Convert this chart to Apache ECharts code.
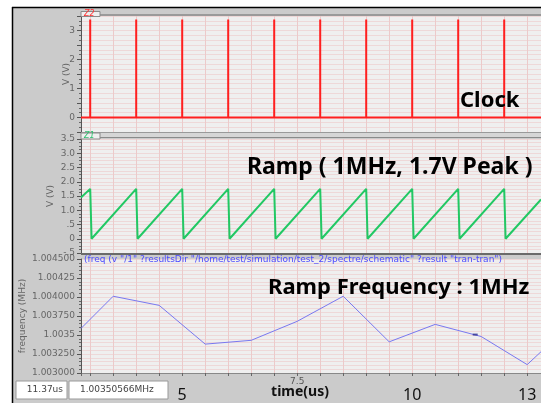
<!DOCTYPE html>
<html><head><meta charset="utf-8">
<script src="https://cdn.jsdelivr.net/npm/echarts@6/dist/echarts.min.js"></script>
<style>html,body{margin:0;padding:0;background:#fff}#c{width:541px;height:403px}</style>
</head><body><div id="c"></div>
<script>
// ---- data ----
const timeMin = 2.8, timeMax = 12.8;
const clockPulseTimes = [3, 4, 5, 6, 7, 8, 9, 10, 11, 12];
const clockHigh = 3.38;
const rampPoints = [
  [2.8, 1.45], [3.0, 1.75], [3.03, 0], [4.0, 1.75], [4.03, 0], [5.0, 1.75], [5.03, 0],
  [6.0, 1.75], [6.03, 0], [7.0, 1.75], [7.03, 0], [8.0, 1.75], [8.03, 0],
  [9.0, 1.75], [9.03, 0], [10.0, 1.75], [10.03, 0], [11.0, 1.75], [11.03, 0],
  [12.0, 1.75], [12.03, 0], [12.8, 1.38]
];
const freqTimes  = [2.8, 3.5, 4.5, 5.5, 6.5, 7.5, 8.5, 9.5, 10.5, 11.5, 12.5, 12.8];
const freqValues = [1.003586, 1.004010, 1.003890, 1.003380, 1.003430, 1.003680,
                    1.004010, 1.003410, 1.003640, 1.003480, 1.003110, 1.003280];
const cursorPoint = [11.37, 1.00350566];
const xTickValues = [5, 7.5, 10, 12.5];
const xTickLabels = ['5', '7.5', '10', '13'];
const clockTickValues = [0, 1, 2, 3];
const rampTickLabels = ['-.5', '0', '.5', '1.0', '1.5', '2.0', '2.5', '3.0', '3.5'];
const freqTickLabels = ['1.003000', '1.003250', '1.0035', '1.003750', '1.004000', '1.00425', '1.004500'];

// ---- build series data ----
const clockData = [[timeMin, 0]];
clockPulseTimes.forEach(t => { clockData.push([t, 0], [t, clockHigh], [t, 0]); });
clockData.push([timeMax, 0]);
const freqData = freqTimes.map((t, i) => [t, freqValues[i]]);

const chart = echarts.init(document.getElementById('c'), null, {renderer: 'canvas'});
const F = 'DejaVu Sans';
const plotBg = '#efefef';
const vGrid = '#eccaca';
const hGrid = 'rgba(236,196,196,0.55)';

function xAxisBase(i) {
  return {
    gridIndex: i, type: 'value', min: timeMin, max: timeMax, splitNumber: 20,
    axisLine: {show: false}, axisTick: {show: false}, axisLabel: {show: false},
    splitLine: {show: true, lineStyle: {color: vGrid, width: 1}}
  };
}
function yAxisBase(i) {
  return {
    gridIndex: i, type: 'value',
    axisLine: {show: true, lineStyle: {color: '#555', width: 1}},
    axisTick: {show: true, length: 4, lineStyle: {color: '#555'}},
    minorTick: {show: true, length: 2, lineStyle: {color: '#666'}},
    axisLabel: {color: '#666', fontSize: 9, fontFamily: F, margin: 6},
    splitLine: {show: true, lineStyle: {color: hGrid}},
    minorSplitLine: {show: true, lineStyle: {color: hGrid}},
    nameLocation: 'middle', nameRotate: 90, nameMoveOverlap: false,
    nameTextStyle: {color: '#666', fontSize: 9, fontFamily: F}
  };
}

const x2 = xAxisBase(2);
x2.axisLine = {show: true, lineStyle: {color: '#888'}};
x2.axisTick = {show: true, length: 3, inside: false, lineStyle: {color: '#666'}};
x2.axisLabel = {
  show: true, customValues: xTickValues, margin: 4,
  formatter: v => {
    const i = xTickValues.findIndex(x => Math.abs(x - v) < 1e-6);
    const s = i >= 0 ? xTickLabels[i] : '';
    return s === '7.5' ? '{s|' + s + '}' : '{b|' + s + '}';
  },
  rich: {
    s: {fontSize: 9, fontFamily: F, color: '#555', padding: [0, 0, 0, 0]},
    b: {fontSize: 16, fontFamily: 'Noto Sans', color: '#111', padding: [10, 0, 0, 0]}
  }
};
x2.name = 'time(us)';
x2.nameLocation = 'middle';
x2.nameGap = 12;
x2.nameMoveOverlap = false;
x2.nameTextStyle = {fontSize: 14, fontWeight: 'bold', fontFamily: 'Noto Sans', color: '#111', padding: [0, 22, 0, 0]};

const y0 = yAxisBase(0);
Object.assign(y0, {min: -0.5, max: 3.5, interval: 0.5, name: 'V (V)', nameGap: 10});
y0.axisLabel = Object.assign({}, y0.axisLabel, {customValues: clockTickValues, formatter: v => String(Math.round(v))});
y0.minorTick = Object.assign({}, y0.minorTick, {splitNumber: 3});

const y1 = yAxisBase(1);
Object.assign(y1, {min: -0.5, max: 3.5, interval: 0.5, name: 'V (V)', nameGap: 26});
y1.axisLabel = Object.assign({}, y1.axisLabel, {formatter: v => rampTickLabels[Math.round((v + 0.5) / 0.5)] || ''});
y1.minorTick = Object.assign({}, y1.minorTick, {splitNumber: 4});

const y2 = yAxisBase(2);
Object.assign(y2, {min: 1.003, max: 1.0045, interval: 0.00025, name: 'frequency (MHz)', nameGap: 54});
y2.axisLabel = Object.assign({}, y2.axisLabel, {formatter: v => freqTickLabels[Math.round((v - 1.003) / 0.00025)] || ''});
y2.minorTick = Object.assign({}, y2.minorTick, {splitNumber: 5});

const titleText = '(freq (v "/1" ?resultsDir "/home/test/simulation/test_2/spectre/schematic" ?result "tran-tran")';

const option = {
  backgroundColor: '#cbcbcb',
  animation: false,
  grid: [
    {left: 81, right: 0, top: 16, height: 116, show: true, backgroundColor: plotBg, borderWidth: 0},
    {left: 81, right: 0, top: 139, height: 114, show: true, backgroundColor: plotBg, borderWidth: 0},
    {left: 81, right: 0, top: 259, height: 117, show: true, backgroundColor: plotBg, borderWidth: 0}
  ],
  xAxis: [xAxisBase(0), xAxisBase(1), x2],
  yAxis: [y0, y1, y2],
  series: [
    {type: 'line', xAxisIndex: 0, yAxisIndex: 0, data: clockData, symbol: 'none',
     lineStyle: {color: '#ff2020', width: 2}, z: 3},
    {type: 'line', xAxisIndex: 1, yAxisIndex: 1, data: rampPoints, symbol: 'none',
     lineStyle: {color: '#22c864', width: 2}, z: 3},
    {type: 'line', xAxisIndex: 2, yAxisIndex: 2, data: freqData, symbol: 'none',
     lineStyle: {color: '#7878f0', width: 1}, z: 3},
    {type: 'scatter', xAxisIndex: 2, yAxisIndex: 2, data: [cursorPoint], symbol: 'rect',
     symbolSize: [5, 2], itemStyle: {color: '#303090'}, z: 4}
  ],
  graphic: [
    {type: 'rect', shape: {x: 0, y: 0, width: 541, height: 7}, style: {fill: '#fff'}, z: 100},
    {type: 'rect', shape: {x: 0, y: 0, width: 12, height: 403}, style: {fill: '#fff'}, z: 100},
    {type: 'line', shape: {x1: 12, y1: 7.5, x2: 541, y2: 7.5}, style: {stroke: '#000', lineWidth: 1.5}, z: 101},
    {type: 'line', shape: {x1: 12.5, y1: 7, x2: 12.5, y2: 403}, style: {stroke: '#000', lineWidth: 1.5}, z: 101},
    {type: 'line', shape: {x1: 100, y1: 15, x2: 541, y2: 15}, style: {stroke: '#9a9a9a', lineWidth: 2}, z: 100},
    {type: 'rect', shape: {x: 81, y: 11.5, width: 19, height: 5}, style: {fill: plotBg, stroke: '#8a8a8a', lineWidth: 1}, z: 100},
    {type: 'text', x: 84, y: 14, style: {text: 'Z2', fill: '#ff3030', font: 'italic 8px DejaVu Sans', verticalAlign: 'middle'}, z: 101},
    {type: 'line', shape: {x1: 81, y1: 132.5, x2: 541, y2: 132.5}, style: {stroke: '#9a9a9a', lineWidth: 1}, z: 100},
    {type: 'rect', shape: {x: 100, y: 133, width: 441, height: 4}, style: {fill: '#d6d6d6'}, z: 100},
    {type: 'line', shape: {x1: 100, y1: 137.5, x2: 541, y2: 137.5}, style: {stroke: '#8a8a8a', lineWidth: 1}, z: 100},
    {type: 'rect', shape: {x: 81, y: 133, width: 19, height: 6}, style: {fill: plotBg, stroke: '#8a8a8a', lineWidth: 1}, z: 100},
    {type: 'text', x: 84, y: 136, style: {text: 'Z1', fill: '#30c070', font: 'italic 8px DejaVu Sans', verticalAlign: 'middle'}, z: 101},
    {type: 'line', shape: {x1: 81, y1: 254, x2: 541, y2: 254}, style: {stroke: '#6a6a6a', lineWidth: 2}, z: 100},
    {type: 'text', x: 84, y: 260, style: {text: titleText, fill: '#4a4aff', font: '9px DejaVu Sans', verticalAlign: 'middle'}, z: 101},
    {type: 'text', x: 460, y: 101, style: {text: 'Clock', fill: '#000', font: 'bold 22px "Noto Sans"', verticalAlign: 'middle'}, z: 110},
    {type: 'text', x: 247, y: 167, style: {text: 'Ramp ( 1MHz, 1.7V Peak )', fill: '#000', font: 'bold 23px "Noto Sans"', verticalAlign: 'middle'}, z: 110},
    {type: 'text', x: 268, y: 288, style: {text: 'Ramp Frequency : 1MHz', fill: '#000', font: 'bold 22px "Noto Sans"', verticalAlign: 'middle'}, z: 110},
    {type: 'rect', shape: {x: 16, y: 381, width: 51, height: 18}, style: {fill: '#fff', stroke: '#999', lineWidth: 1}, z: 100},
    {type: 'text', x: 63, y: 390, style: {text: '11.37us', fill: '#444', font: '9px DejaVu Sans', align: 'right', verticalAlign: 'middle'}, z: 101},
    {type: 'rect', shape: {x: 69, y: 381, width: 99, height: 18}, style: {fill: '#fff', stroke: '#999', lineWidth: 1}, z: 100},
    {type: 'text', x: 80, y: 390, style: {text: '1.00350566MHz', fill: '#444', font: '9px DejaVu Sans', verticalAlign: 'middle'}, z: 101}
  ]
};
chart.setOption(option);
</script>
</body></html>
